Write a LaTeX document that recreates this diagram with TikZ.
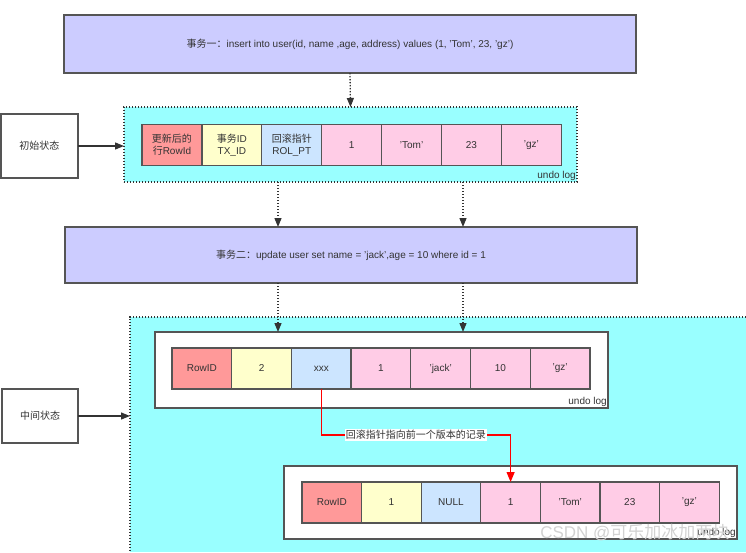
\documentclass[tikz,border=0pt]{standalone}
\usepackage{fontspec}
\setmainfont{Liberation Sans}
\newfontfamily\cjk{Noto Sans CJK SC}
\usetikzlibrary{arrows.meta,positioning}

\definecolor{txbox}{HTML}{CCCCFF}
\definecolor{logbg}{HTML}{99FFFF}
\definecolor{rowidc}{HTML}{FF9999}
\definecolor{txidc}{HTML}{FFFFCC}
\definecolor{rollc}{HTML}{CCE5FF}
\definecolor{fieldc}{HTML}{FFCCE6}
\definecolor{edge}{HTML}{555555}
\definecolor{ink}{HTML}{333333}

\tikzset{
  txn/.style={draw=edge, fill=txbox, line width=1.6pt, outer sep=0pt},
  statebox/.style={draw=edge, fill=white, line width=1.2pt, outer sep=0pt},
  logbox/.style={draw=edge, fill=white, line width=1.4pt, outer sep=0pt},
  cell/.style={draw=edge, line width=1.2pt, outer sep=0pt, minimum width=59.8pt, minimum height=41pt, align=center, inner sep=1pt},
  dotline/.style={draw=ink, line width=1.3pt, dash pattern=on 1.3pt off 1.7pt, -{Triangle[length=9pt,width=7pt]}},
  flow/.style={draw=ink, line width=1.3pt, -{Triangle[length=9pt,width=7pt]}},
  rollback/.style={draw=red, line width=1.1pt, -{Triangle[length=10pt,width=8pt]}},
  loglabel/.style={anchor=south east, inner sep=1pt}
}

\begin{document}
\begin{tikzpicture}[x=1pt, y=-1pt, font=\fontsize{10}{12}\selectfont, text=ink]
  \useasboundingbox (0,0) rectangle (746,552);

  % Transaction one
  \node[txn, minimum width=572pt, minimum height=58pt] (t1) at (350,44) {{\cjk 事务一：}insert into user(id, name ,age, address) values (1, 'Tom', 23, 'gz')};

  % Initial state
  \node[statebox, minimum width=77pt, minimum height=64pt] (state1) at (39.5,146) {\cjk 初始状态};
  \node[draw=ink, fill=logbg, line width=1.3pt, dash pattern=on 1.3pt off 1.7pt, outer sep=0pt, minimum width=453pt, minimum height=75pt] (log1) at (350.5,144.5) {};
  \node[loglabel] at (log1.south east) {undo log};
  \foreach \i/\c/\t in {1/rowidc/{{\cjk 更新后的}\\{\cjk 行}RowId}, 2/txidc/{{\cjk 事务}ID\\TX\_ID}, 3/rollc/{{\cjk 回滚指针}\\ROL\_PT}, 4/fieldc/1, 5/fieldc/'Tom', 6/fieldc/23, 7/fieldc/'gz'}
    \node[cell, fill=\c] (r1c\i) at ({142+59.9*(\i-0.5)},145) {\t};

  \draw[flow] (state1.east) -- (state1.east -| log1.west);
  \draw[dotline] (t1.south) -- (log1.north);

  % Transaction two
  \node[txn, minimum width=572pt, minimum height=56pt] (t2) at (351,255) {{\cjk 事务二：}update user set name = 'jack',age = 10 where id = 1};
  \draw[dotline] ([xshift=-72.5pt]log1.south) -- ([xshift=-73pt]t2.north);
  \draw[dotline] ([xshift=112.5pt]log1.south) -- ([xshift=112pt]t2.north);

  % Intermediate state
  \node[fill=logbg, outer sep=0pt, minimum width=616pt, minimum height=235pt] (mid) at (438,434.5) {};
  \draw[draw=ink, line width=1.3pt, dash pattern=on 1.3pt off 1.7pt] (mid.north east) -- (mid.north west) -- (mid.south west);
  \node[statebox, minimum width=76pt, minimum height=54pt] (state2) at (40,416) {\cjk 中间状态};
  \draw[flow] (state2.east) -- (state2.east -| mid.west);

  \node[logbox, minimum width=453pt, minimum height=76pt] (log2) at (381.5,370) {};
  \node[loglabel] at (log2.south east) {undo log};
  \foreach \i/\c/\t in {1/rowidc/RowID, 2/txidc/2, 3/rollc/xxx, 4/fieldc/1, 5/fieldc/'jack', 6/fieldc/10, 7/fieldc/'gz'}
    \node[cell, fill=\c] (r2c\i) at ({172+59.7*(\i-0.5)},368.5) {\t};

  \coordinate (d1) at ([xshift=-73pt]t2.south);
  \coordinate (d2) at ([xshift=112pt]t2.south);
  \draw[dotline] (d1) -- (d1 |- log2.north);
  \draw[dotline] (d2) -- (d2 |- log2.north);

  \node[logbox, minimum width=453pt, minimum height=73pt] (log3) at (510.5,502.5) {};
  \node[loglabel] at (log3.south east) {undo log};
  \foreach \i/\c/\t in {1/rowidc/RowID, 2/txidc/1, 3/rollc/NULL, 4/fieldc/1, 5/fieldc/'Tom', 6/fieldc/23, 7/fieldc/'gz'}
    \node[cell, fill=\c] (r3c\i) at ({302+59.6*(\i-0.5)},502.5) {\t};

  % Rollback pointer
  \draw[rollback] (r2c3.south) -- ++(0,46) -| node[pos=0.25, fill=white, inner sep=1pt, text=ink] {\cjk 回滚指针指向前一个版本的记录} (r3c4.north);

  % Watermark
  \node[text=gray!35, font=\fontsize{17}{20}\selectfont, anchor=east] (mark) at (733,533) {CSDN @{\cjk 可乐加冰加两块}};

\end{tikzpicture}
\end{document}
